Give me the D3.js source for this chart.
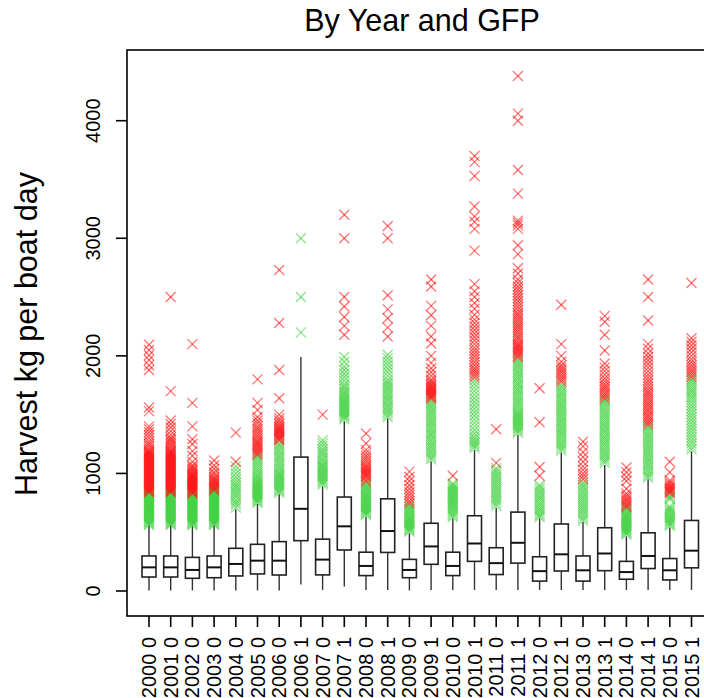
<!DOCTYPE html>
<html>
<head>
<meta charset="utf-8">
<script src="https://cdn.jsdelivr.net/npm/d3@7"></script>
<style>
  body { margin: 0; background: #fff; }
  text { font-family: "Liberation Sans", Arial, Helvetica, sans-serif; fill: #000; }
</style>
</head>
<body>
<div class="boxChart"></div>
<script>
// Year / GFP groups
const groups = ["2000 0", "2001 0", "2002 0", "2003 0", "2004 0", "2005 0", "2006 0", "2006 1",
  "2007 0", "2007 1", "2008 0", "2008 1", "2009 0", "2009 1", "2010 0", "2010 1", "2011 0",
  "2011 1", "2012 0", "2012 1", "2013 0", "2013 1", "2014 0", "2014 1", "2015 0", "2015 1"];

// Box statistics (kg per boat day)
const lowWhisker = [5, 5, 5, 5, 5, 5, 5, 55, 9, 39, 9, 9, 5, 9, 9, 9, 9, 9, 9, 9, 9, 9, 9, 9, 9, 9];
const q1 = [119, 119, 108, 113, 128, 145, 136, 428, 137, 349, 131, 328, 113, 227, 131, 252, 140, 237, 84, 170, 84, 173, 100, 191, 94, 197];
const medians = [201, 201, 179, 201, 230, 258, 258, 699, 267, 550, 213, 510, 179, 379, 213, 404, 237, 410, 169, 312, 176, 319, 161, 298, 176, 343];
const q3 = [298, 298, 286, 298, 363, 397, 420, 1139, 441, 799, 330, 784, 269, 576, 330, 640, 368, 671, 291, 570, 298, 538, 252, 495, 276, 600];
const highWhisker = [556, 556, 550, 556, 695, 740, 822, 1990, 890, 1443, 632, 1467, 491, 1103, 617, 1200, 708, 1330, 617, 1178, 586, 1072, 465, 951, 541, 1188];

// Outlying values per group
const outliers = [
  // 2000 0
  [562, 572, 582, 592, 602, 612, 622, 632, 642, 652, 662, 672, 682, 692, 702, 712, 722, 732, 742, 752, 762, 772, 782, 792, 802, 812, 822, 832,
   840, 850, 860, 870, 880, 890, 900, 910, 920, 930, 940, 950, 960, 970, 980, 990, 1000, 1010, 1020, 1030, 1040, 1050, 1060, 1070,
   1080, 1090, 1100, 1110, 1120, 1130, 1140, 1150, 1160, 1170, 1180, 1190, 1200,
   1215, 1235, 1255, 1275, 1300, 1325, 1350, 1375, 1400, 1530, 1560, 1880, 1920, 1965, 2005, 2050, 2095],
  // 2001 0
  [562, 572, 582, 592, 602, 612, 622, 632, 642, 652, 662, 672, 682, 692, 702, 712, 722, 732, 742, 752, 762, 772, 782, 792, 802, 812, 822, 832,
   840, 850, 860, 870, 880, 890, 900, 910, 920, 930, 940, 950, 960, 970, 980, 990, 1000, 1010, 1020, 1030, 1040, 1050, 1060, 1070,
   1080, 1090, 1100, 1110, 1120, 1130, 1140, 1150, 1160, 1170, 1180, 1190, 1200, 1215, 1230, 1245, 1260, 1275, 1290, 1305,
   1330, 1360, 1390, 1420, 1450, 1700, 2500],
  // 2002 0
  [558, 568, 578, 588, 598, 608, 618, 628, 638, 648, 658, 668, 678, 688, 698, 708, 718, 728, 738, 748, 758, 768, 778, 788, 798, 808, 818,
   828, 838, 848, 858, 868, 878, 888, 898, 908, 918, 928, 938, 948, 958, 968, 978, 988, 998, 1010, 1025, 1040, 1055, 1070,
   1100, 1150, 1190, 1250, 1290, 1400, 1600, 2100],
  // 2003 0
  [562, 572, 582, 592, 602, 612, 622, 632, 642, 652, 662, 672, 682, 692, 702, 712, 722, 732, 742, 752, 762, 772, 782, 792, 802, 812, 822, 832, 842, 850,
   858, 870, 882, 894, 906, 918, 930, 942, 955, 970, 990, 1010, 1040, 1070, 1110],
  // 2004 0
  [710, 735, 755, 775, 800, 820, 840, 860, 880, 900, 920, 945, 970, 1000, 1030, 1060, 1100, 1347],
  // 2005 0
  [750, 762, 774, 786, 798, 810, 822, 834, 846, 858, 870, 882, 894, 906, 918, 930, 945, 960, 975, 990, 1010, 1030, 1050, 1070, 1090, 1110, 1130, 1148,
   1160, 1175, 1190, 1205, 1220, 1235, 1250, 1265, 1280, 1300, 1320, 1340, 1360, 1380, 1400, 1425, 1450, 1480, 1540, 1600, 1800],
  // 2006 0
  [835, 850, 865, 880, 895, 910, 925, 940, 955, 970, 985, 1000, 1015, 1035, 1055, 1075, 1095, 1115, 1135, 1155, 1175, 1195, 1215, 1235, 1255,
   1280, 1292, 1304, 1316, 1328, 1340, 1352, 1364, 1376, 1388, 1400, 1415, 1430, 1450, 1470, 1500, 1640, 1880, 2280, 2730],
  // 2006 1
  [2200, 2500, 3000],
  // 2007 0
  [905, 920, 935, 950, 965, 980, 995, 1010, 1025, 1040, 1055, 1070, 1085, 1105, 1125, 1145, 1165, 1185, 1205, 1230, 1255, 1280, 1500],
  // 2007 1
  [1460, 1475, 1490, 1505, 1520, 1535, 1550, 1565, 1580, 1595, 1610, 1625, 1640, 1655, 1670, 1685, 1700, 1720, 1740, 1760,
   1790, 1820, 1850, 1880, 1910, 1950, 1990, 2180, 2255, 2330, 2420, 2500, 3000, 3200],
  // 2008 0
  [645, 657, 669, 681, 693, 705, 717, 729, 741, 753, 765, 777, 789, 801, 813, 825, 840, 855, 870, 885, 900, 915, 930, 945,
   965, 977, 989, 1001, 1013, 1025, 1040, 1055, 1070, 1090, 1110, 1130, 1150, 1175, 1200, 1255, 1340],
  // 2008 1
  [1480, 1500, 1520, 1540, 1560, 1580, 1600, 1620, 1640, 1660, 1680, 1700, 1720, 1740, 1760, 1780, 1800,
   1830, 1860, 1890, 1920, 1950, 1980, 2010, 2165, 2240, 2320, 2395, 2515, 3000, 3105],
  // 2009 0
  [505, 517, 529, 541, 553, 565, 577, 589, 601, 613, 625, 640, 655, 670, 685, 700, 715, 730,
   745, 765, 790, 815, 840, 870, 900, 935, 970, 1015],
  // 2009 1
  [1120, 1140, 1160, 1180, 1200, 1220, 1240, 1260, 1280, 1300, 1320, 1340, 1360, 1380, 1400, 1420, 1440, 1460, 1480, 1500,
   1520, 1540, 1560, 1580, 1600, 1615, 1635, 1647, 1659, 1671, 1683, 1695, 1707, 1719, 1731, 1743, 1755, 1770, 1785, 1800, 1830, 1860, 1895,
   1940, 2000, 2105, 2165, 2255, 2345, 2425, 2590, 2650],
  // 2010 0
  [630, 645, 660, 675, 690, 705, 720, 735, 750, 765, 780, 795, 810, 825, 840, 855, 870, 885, 900, 915, 980],
  // 2010 1
  [1215, 1230, 1245, 1260, 1275, 1295, 1315, 1340, 1370, 1400, 1430, 1460, 1490, 1520, 1550, 1580, 1610, 1640, 1670, 1700, 1730, 1760, 1790,
   1815, 1835, 1855, 1875, 1895, 1920, 1945, 1970, 1995, 2020, 2045, 2070, 2100, 2130, 2160, 2190, 2220, 2250, 2280, 2310,
   2350, 2400, 2450, 2500, 2550, 2610, 2895, 3080, 3140, 3185, 3270, 3530, 3650, 3700],
  // 2011 0
  [725, 745, 765, 785, 805, 825, 845, 865, 885, 905, 925, 945, 965, 985, 1005, 1025, 1045, 1090, 1375],
  // 2011 1
  [1345, 1360, 1375, 1390, 1405, 1420, 1435, 1450, 1465, 1480, 1495, 1510, 1525, 1545, 1565, 1585, 1605, 1625, 1645, 1665, 1685, 1705, 1725,
   1745, 1765, 1785, 1805, 1825, 1845, 1865, 1885, 1905, 1925, 1945, 1965,
   1985, 2000, 2015, 2030, 2045, 2060, 2075, 2090, 2105, 2125, 2145, 2165, 2185, 2205, 2225, 2245, 2265, 2285, 2305, 2325, 2345, 2365,
   2390, 2415, 2440, 2465, 2490, 2515, 2540, 2565, 2590, 2620, 2650, 2700, 2745, 2865, 2940, 3080, 3110, 3130, 3150,
   3380, 3580, 4000, 4060, 4380],
  // 2012 0
  [630, 645, 660, 680, 700, 720, 740, 760, 780, 800, 820, 840, 860, 880, 900, 980, 1055, 1435, 1725],
  // 2012 1
  [1195, 1215, 1235, 1255, 1275, 1295, 1315, 1335, 1355, 1375, 1395, 1415, 1435, 1455, 1475, 1495, 1515, 1535, 1555, 1575,
   1595, 1615, 1635, 1655, 1675, 1695, 1715, 1735, 1755, 1780, 1800, 1820, 1840, 1860, 1880, 1900, 1920, 1950, 2000, 2100, 2435],
  // 2013 0
  [600, 620, 640, 660, 680, 700, 720, 740, 760, 780, 800, 820, 840, 860, 880, 900, 920,
   950, 975, 1000, 1030, 1060, 1100, 1140, 1180, 1230, 1270],
  // 2013 1
  [1090, 1110, 1130, 1150, 1170, 1190, 1210, 1230, 1250, 1270, 1290, 1310, 1330, 1350, 1370, 1390, 1410, 1430, 1450, 1470,
   1490, 1510, 1530, 1550, 1570, 1590, 1610, 1625, 1640, 1660, 1680, 1700, 1720, 1740, 1760, 1785, 1810, 1840, 1870, 1900,
   1935, 2045, 2180, 2290, 2340],
  // 2014 0
  [480, 492, 504, 516, 528, 540, 552, 564, 576, 588, 600, 612, 624, 636, 648, 660, 675, 690, 702,
   715, 730, 745, 760, 775, 790, 810, 830, 870, 935, 970, 1010, 1050],
  // 2014 1
  [965, 985, 1005, 1025, 1045, 1065, 1085, 1105, 1125, 1145, 1165, 1185, 1205, 1225, 1245, 1265, 1285, 1305, 1325, 1345, 1365, 1385, 1400,
   1415, 1435, 1455, 1475, 1495, 1515, 1535, 1555, 1575, 1595, 1615, 1635, 1655, 1675, 1695, 1715, 1740, 1765, 1790, 1815,
   1840, 1870, 1900, 1930, 1960, 1990, 2020, 2060, 2100, 2300, 2500, 2650],
  // 2015 0
  [555, 570, 585, 600, 615, 630, 645, 660, 675, 690, 705, 720, 780, 795, 810,
   830, 842, 854, 866, 878, 890, 905, 920, 940, 1010, 1100],
  // 2015 1
  [1205, 1230, 1255, 1280, 1305, 1330, 1355, 1380, 1405, 1430, 1455, 1480, 1505, 1530, 1555, 1580, 1605, 1630, 1650, 1670,
   1690, 1710, 1730, 1750, 1770, 1790, 1800, 1820, 1840, 1860, 1880, 1900, 1920, 1945, 1970, 2000, 2030, 2060, 2090, 2120, 2150, 2620]
];

const yTicks = [0, 1000, 2000, 3000, 4000];

// Layout
const width = 704;
const height = 698;
const frame = { left: 127, top: 50, right: 713, bottom: 616 };
const boxWidth = 14;
const markSize = 5;

const svg = d3.select(".boxChart")
  .append("svg")
  .attr("width", width)
  .attr("height", height)
  .style("background", "#fff");

const x = d3.scalePoint()
  .domain(groups)
  .range([149, 691.5]);

const y = d3.scaleLinear()
  .domain([0, 4000])
  .range([591, 120.7]);

// Build one record per group
const boxData = groups.map((g, i) => ({
  group: g,
  low: lowWhisker[i],
  q1: q1[i],
  median: medians[i],
  q3: q3[i],
  high: highWhisker[i],
  // values beyond 3 IQR above the box are drawn red, the rest green
  cut: q3[i] + 3 * (q3[i] - q1[i]),
  outliers: outliers[i]
}));

// Title
svg.append("text")
  .attr("x", 422)
  .attr("y", 31)
  .attr("text-anchor", "middle")
  .style("font-size", "30.5px")
  .text("By Year and GFP");

// Y axis label
svg.append("text")
  .attr("transform", "translate(37, 334) rotate(-90)")
  .attr("text-anchor", "middle")
  .style("font-size", "30.5px")
  .text("Harvest kg per boat day");

// Outlier crosses
const pointData = boxData.flatMap(d => d.outliers.map(v => ({
  group: d.group,
  value: v,
  color: v > d.cut ? "rgb(255,0,0)" : "rgb(50,205,50)"
})));

const marks = svg.append("g")
  .selectAll("g")
  .data(pointData)
  .join("g")
  .attr("transform", d => `translate(${x(d.group)}, ${y(d.value)})`);

marks.append("line")
  .attr("x1", -markSize).attr("y1", -markSize)
  .attr("x2", markSize).attr("y2", markSize)
  .attr("stroke", d => d.color)
  .attr("stroke-opacity", 0.55)
  .attr("stroke-width", 1.3);

marks.append("line")
  .attr("x1", -markSize).attr("y1", markSize)
  .attr("x2", markSize).attr("y2", -markSize)
  .attr("stroke", d => d.color)
  .attr("stroke-opacity", 0.55)
  .attr("stroke-width", 1.3);

// Boxes
const boxes = svg.append("g")
  .selectAll("g")
  .data(boxData)
  .join("g")
  .attr("transform", d => `translate(${x(d.group)}, 0)`);

boxes.append("line")
  .attr("y1", d => y(d.q1))
  .attr("y2", d => y(d.low))
  .attr("stroke", "#333")
  .attr("stroke-width", 1.4);

boxes.append("line")
  .attr("y1", d => y(d.q3))
  .attr("y2", d => y(d.high))
  .attr("stroke", "#333")
  .attr("stroke-width", 1.4);

boxes.append("rect")
  .attr("x", -boxWidth / 2)
  .attr("width", boxWidth)
  .attr("y", d => y(d.q3))
  .attr("height", d => y(d.q1) - y(d.q3))
  .attr("fill", "#fff")
  .attr("stroke", "#222")
  .attr("stroke-width", 1.6);

boxes.append("line")
  .attr("x1", -boxWidth / 2)
  .attr("x2", boxWidth / 2)
  .attr("y1", d => y(d.median))
  .attr("y2", d => y(d.median))
  .attr("stroke", "#111")
  .attr("stroke-width", 2);

// Plot frame
svg.append("rect")
  .attr("x", frame.left)
  .attr("y", frame.top)
  .attr("width", frame.right - frame.left)
  .attr("height", frame.bottom - frame.top)
  .attr("fill", "none")
  .attr("stroke", "#000")
  .attr("stroke-width", 1.6);

// Y axis ticks and labels
const yAxis = svg.append("g");
yAxis.selectAll("line")
  .data(yTicks)
  .join("line")
  .attr("x1", frame.left - 11)
  .attr("x2", frame.left)
  .attr("y1", d => y(d))
  .attr("y2", d => y(d))
  .attr("stroke", "#000")
  .attr("stroke-width", 1.6);

yAxis.selectAll("text")
  .data(yTicks)
  .join("text")
  .attr("transform", d => `translate(99.5, ${y(d)}) rotate(-90)`)
  .attr("text-anchor", "middle")
  .style("font-size", "20px")
  .text(d => d);

// X axis ticks and labels
const xAxis = svg.append("g");
xAxis.selectAll("line")
  .data(groups)
  .join("line")
  .attr("x1", d => x(d))
  .attr("x2", d => x(d))
  .attr("y1", frame.bottom)
  .attr("y2", frame.bottom + 11)
  .attr("stroke", "#000")
  .attr("stroke-width", 1.6);

xAxis.selectAll("text")
  .data(groups)
  .join("text")
  .attr("transform", d => `translate(${x(d) + 7}, 637) rotate(-90)`)
  .attr("text-anchor", "end")
  .style("font-size", "20px")
  .text(d => d);
</script>
</body>
</html>
